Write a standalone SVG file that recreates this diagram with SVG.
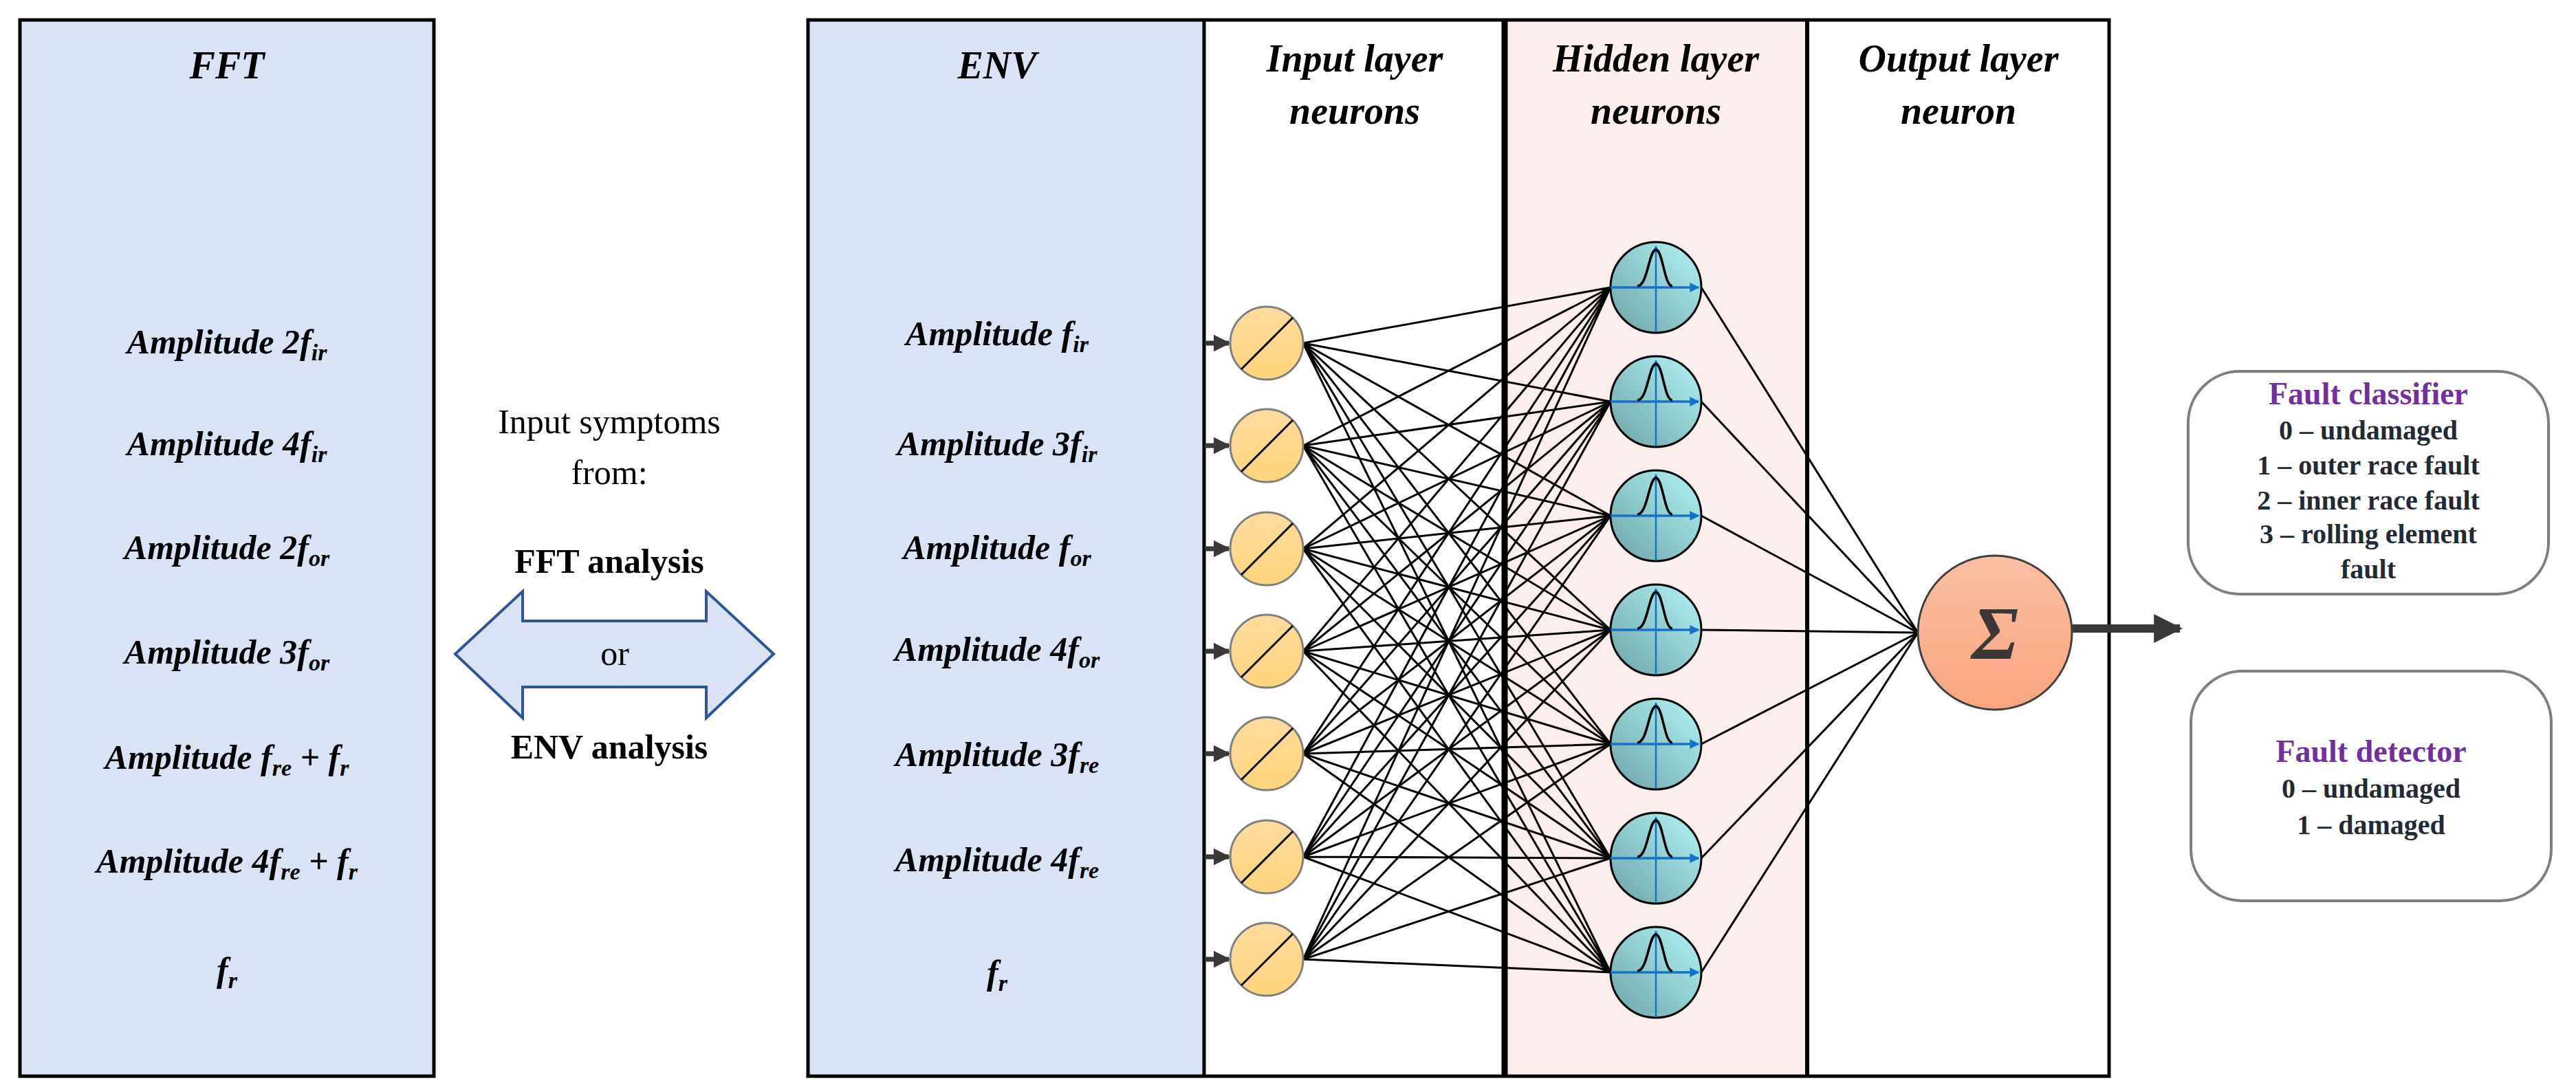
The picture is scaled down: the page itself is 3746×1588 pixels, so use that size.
<svg xmlns="http://www.w3.org/2000/svg" width="3746" height="1588" viewBox="0 0 3746 1588">
<defs>
<linearGradient id="gy" x1="0" y1="0" x2="0" y2="1"><stop offset="0" stop-color="#fedb9e"/><stop offset="1" stop-color="#fed57c"/></linearGradient>
<linearGradient id="gt" x1="0" y1="1" x2="1" y2="0"><stop offset="0" stop-color="#6ea3a6"/><stop offset="1" stop-color="#b2f4f4"/></linearGradient>
<linearGradient id="gs" x1="0" y1="0" x2="0" y2="1"><stop offset="0" stop-color="#fbbfa3"/><stop offset="1" stop-color="#f9a47f"/></linearGradient>
<marker id="ab" viewBox="0 0 10 10" refX="9" refY="5" markerWidth="3.5" markerHeight="3.5" orient="auto"><path d="M0,0 L10,5 L0,10 z" fill="#3b3838"/></marker>
<marker id="ax" viewBox="0 0 10 10" refX="9" refY="5" markerWidth="4" markerHeight="4" orient="auto"><path d="M0,0 L10,5 L0,10 z" fill="#1572c9"/></marker>
<g id="inN"><circle r="53" fill="url(#gy)" stroke="#7f7f7f" stroke-width="3"/><line x1="-37" y1="38" x2="38" y2="-37" stroke="#000" stroke-width="3"/></g>
<g id="hidN"><circle r="66" fill="url(#gt)" stroke="#000" stroke-width="3"/>
<line x1="0" y1="65" x2="0" y2="-60" stroke="#1572c9" stroke-width="2.5" marker-end="url(#ax)"/>
<line x1="-66" y1="0" x2="62" y2="0" stroke="#1572c9" stroke-width="3.5" marker-end="url(#ax)"/>
<path d="M-27,-2 C-12,-2 -10,-55 0,-55 C10,-55 12,-2 24,-2" fill="none" stroke="#000" stroke-width="3.5"/></g>
</defs>
<style>
.t{font-family:"Liberation Serif",serif;font-weight:bold;font-style:italic;font-size:50px;fill:#000;text-anchor:middle}
.h{font-family:"Liberation Serif",serif;font-weight:bold;font-style:italic;font-size:56px;fill:#000;text-anchor:middle}
.m{font-family:"Liberation Serif",serif;font-size:50px;fill:#000;text-anchor:middle}
.mb{font-weight:bold}
.r{font-family:"Liberation Serif",serif;font-weight:bold;font-size:40px;fill:#222a35;text-anchor:middle}
.p{fill:#7030a0;font-size:46px}
.s{font-size:34px}
.c{stroke:#000;stroke-width:3;fill:none}
</style>
<rect width="3746" height="1588" fill="#fff"/>
<g id="fft"><rect x="29" y="29" width="602" height="1536" fill="#dae3f3" stroke="#000" stroke-width="5"/>
<text class="h" x="330" y="114">FFT</text>
<text class="t" x="330" y="514">Amplitude 2<tspan>f</tspan><tspan class="s" dy="10">ir</tspan></text>
<text class="t" x="330" y="662">Amplitude 4f<tspan class="s" dy="10">ir</tspan></text>
<text class="t" x="330" y="813">Amplitude 2f<tspan class="s" dy="10">or</tspan></text>
<text class="t" x="330" y="965">Amplitude 3f<tspan class="s" dy="10">or</tspan></text>
<text class="t" x="330" y="1118">Amplitude f<tspan class="s" dy="10">re</tspan><tspan dy="-10"> + f</tspan><tspan class="s" dy="10">r</tspan></text>
<text class="t" x="330" y="1269">Amplitude 4f<tspan class="s" dy="10">re</tspan><tspan dy="-10"> + f</tspan><tspan class="s" dy="10">r</tspan></text>
<text class="t" x="330" y="1427">f<tspan class="s" dy="10">r</tspan></text>
</g>
<g id="middle">
<text class="m" x="886" y="630">Input symptoms</text>
<text class="m" x="886" y="704">from:</text>
<text class="m mb" x="886" y="833">FFT analysis</text>
<path d="M662,951 L760,860 L760,903 L1027,903 L1027,860 L1125,951 L1027,1044 L1027,999 L760,999 L760,1044 Z" fill="#dae3f3" stroke="#2f5597" stroke-width="4"/>
<text class="m" x="894" y="967">or</text>
<text class="m mb" x="886" y="1103">ENV analysis</text>
</g>
<g id="panels">
<rect x="1175" y="29" width="576" height="1536" fill="#dae3f3"/>
<rect x="2188" y="29" width="440" height="1536" fill="#fdeeee"/>
<rect x="1175" y="29" width="1892" height="1536" fill="none" stroke="#000" stroke-width="5"/>
<line x1="1751" y1="29" x2="1751" y2="1565" stroke="#000" stroke-width="5"/>
<line x1="2188" y1="29" x2="2188" y2="1565" stroke="#000" stroke-width="9"/>
<line x1="2628" y1="29" x2="2628" y2="1565" stroke="#000" stroke-width="6"/>
<text class="h" x="1450" y="114">ENV</text>
<text class="h" x="1970" y="104">Input layer</text><text class="h" x="1970" y="180">neurons</text>
<text class="h" x="2408" y="104">Hidden layer</text><text class="h" x="2408" y="180">neurons</text>
<text class="h" x="2848" y="104">Output layer</text><text class="h" x="2848" y="180">neuron</text>
<text class="t" x="1450" y="502">Amplitude f<tspan class="s" dy="10">ir</tspan></text>
<text class="t" x="1450" y="662">Amplitude 3f<tspan class="s" dy="10">ir</tspan></text>
<text class="t" x="1450" y="813">Amplitude f<tspan class="s" dy="10">or</tspan></text>
<text class="t" x="1450" y="961">Amplitude 4f<tspan class="s" dy="10">or</tspan></text>
<text class="t" x="1450" y="1114">Amplitude 3f<tspan class="s" dy="10">re</tspan></text>
<text class="t" x="1450" y="1267">Amplitude 4f<tspan class="s" dy="10">re</tspan></text>
<text class="t" x="1450" y="1431">f<tspan class="s" dy="10">r</tspan></text>
</g>
<g id="connectors">
<g stroke="#3b3838" stroke-width="7" marker-end="url(#ab)">
<line x1="1752" y1="499" x2="1787" y2="499"/><line x1="1752" y1="648" x2="1787" y2="648"/><line x1="1752" y1="798" x2="1787" y2="798"/><line x1="1752" y1="947" x2="1787" y2="947"/><line x1="1752" y1="1096" x2="1787" y2="1096"/><line x1="1752" y1="1246" x2="1787" y2="1246"/><line x1="1752" y1="1395" x2="1787" y2="1395"/>
</g>
<path class="c" d="M1895,499L2342,418M1895,499L2342,584M1895,499L2342,750M1895,499L2342,916M1895,499L2342,1082M1895,499L2342,1248M1895,499L2342,1414
M1895,648L2342,418M1895,648L2342,584M1895,648L2342,750M1895,648L2342,916M1895,648L2342,1082M1895,648L2342,1248M1895,648L2342,1414
M1895,798L2342,418M1895,798L2342,584M1895,798L2342,750M1895,798L2342,916M1895,798L2342,1082M1895,798L2342,1248M1895,798L2342,1414
M1895,947L2342,418M1895,947L2342,584M1895,947L2342,750M1895,947L2342,916M1895,947L2342,1082M1895,947L2342,1248M1895,947L2342,1414
M1895,1096L2342,418M1895,1096L2342,584M1895,1096L2342,750M1895,1096L2342,916M1895,1096L2342,1082M1895,1096L2342,1248M1895,1096L2342,1414
M1895,1246L2342,418M1895,1246L2342,584M1895,1246L2342,750M1895,1246L2342,916M1895,1246L2342,1082M1895,1246L2342,1248M1895,1246L2342,1414
M1895,1395L2342,418M1895,1395L2342,584M1895,1395L2342,750M1895,1395L2342,916M1895,1395L2342,1082M1895,1395L2342,1248M1895,1395L2342,1414
M2474,418L2789,920M2474,584L2789,920M2474,750L2789,920M2474,916L2789,920M2474,1082L2789,920M2474,1248L2789,920M2474,1414L2789,920"/>
<line x1="3014" y1="914" x2="3170" y2="914" stroke="#3b3838" stroke-width="12" marker-end="url(#ab)"/>
</g>
<g id="inputs">
<use href="#inN" x="1842" y="499"/><use href="#inN" x="1842" y="648"/><use href="#inN" x="1842" y="798"/><use href="#inN" x="1842" y="947"/><use href="#inN" x="1842" y="1096"/><use href="#inN" x="1842" y="1246"/><use href="#inN" x="1842" y="1395"/>
</g>
<g id="hidden">
<use href="#hidN" x="2408" y="418"/><use href="#hidN" x="2408" y="584"/><use href="#hidN" x="2408" y="750"/><use href="#hidN" x="2408" y="916"/><use href="#hidN" x="2408" y="1082"/><use href="#hidN" x="2408" y="1248"/><use href="#hidN" x="2408" y="1414"/>
</g>
<g id="sigma"><circle cx="2901" cy="920" r="112" fill="url(#gs)" stroke="#404040" stroke-width="3"/>
<text x="2901" y="958" font-family="Liberation Serif,serif" font-weight="bold" font-style="italic" font-size="110" fill="#3b3838" text-anchor="middle">Σ</text></g>
<g id="classifier"><rect x="3182" y="540" width="524" height="324" rx="75" fill="#fff" stroke="#7f7f7f" stroke-width="4"/>
<text class="r p" x="3444" y="588">Fault classifier</text>
<text class="r" x="3444" y="639">0 – undamaged</text>
<text class="r" x="3444" y="690">1 – outer race fault</text>
<text class="r" x="3444" y="741">2 – inner race fault</text>
<text class="r" x="3444" y="790">3 – rolling element</text>
<text class="r" x="3444" y="841">fault</text></g>
<g id="detector"><rect x="3186" y="976" width="524" height="334" rx="75" fill="#fff" stroke="#7f7f7f" stroke-width="4"/>
<text class="r p" x="3448" y="1108">Fault detector</text>
<text class="r" x="3448" y="1160">0 – undamaged</text>
<text class="r" x="3448" y="1213">1 – damaged</text></g>
</svg>
